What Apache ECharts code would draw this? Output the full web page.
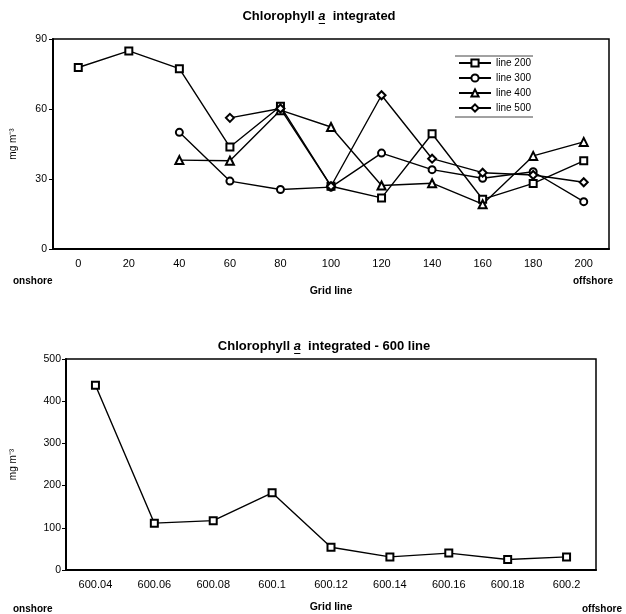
<!DOCTYPE html>
<html>
<head>
<meta charset="utf-8">
<script src="https://cdn.jsdelivr.net/npm/echarts@6/dist/echarts.min.js"></script>
<style>
html,body{margin:0;padding:0;background:#fff;}
#chart{width:626px;height:614px;}
</style>
</head>
<body>
<div id="chart"></div>
<script>
// ---- data ----
const gridLinesTop = ['0','20','40','60','80','100','120','140','160','180','200'];
const line200 = [77.8, 84.9, 77.3, 43.7, 61.2, 26.9, 21.9, 49.4, 21.3, 28.1, 37.8];
const line300 = [null, null, 50.0, 29.1, 25.5, 26.5, 41.1, 34.0, 30.3, 33.1, 20.3];
const line400 = [null, null, 38.1, 37.8, 59.5, 52.3, 27.2, 28.2, 19.2, 39.9, 45.9];
const line500 = [null, null, null, 56.2, 60.2, 26.9, 65.9, 38.7, 32.7, 31.7, 28.6];

const gridLines600 = ['600.04','600.06','600.08','600.1','600.12','600.14','600.16','600.18','600.2'];
const line600 = [438, 111, 117, 183, 54, 31, 40, 25, 31];

const topTicks = {min: 0, max: 90, interval: 30};
const bottomTicks = {min: 0, max: 500, interval: 100};

// ---- chart ----
const FONT = '"Liberation Sans", Arial, sans-serif';
const TITLE_SIZE = 13;
const chart = echarts.init(document.getElementById('chart'), null, {renderer: 'canvas'});

// measure title parts to place the underline under the italic "a"
const mctx = document.createElement('canvas').getContext('2d');
function w(text, font) { mctx.font = font; return mctx.measureText(text).width; }
const boldF = 'bold ' + TITLE_SIZE + 'px ' + FONT;
const italF = 'italic ' + TITLE_SIZE + 'px ' + FONT;
function underlineFor(centerX, y, pre, post) {
  const total = w(pre, boldF) + w('a', italF) + w(post, boldF);
  const x0 = centerX - total / 2 + w(pre, boldF);
  const x1 = x0 + w('a', italF);
  return {type: 'line', shape: {x1: x0 + 0.5, y1: y, x2: x1 - 0.5, y2: y}, style: {stroke: '#000', lineWidth: 1}};
}

function lineSeries(name, data, symbol, size, axisIdx) {
  return {
    name: name, type: 'line', data: data,
    xAxisIndex: axisIdx, yAxisIndex: axisIdx,
    symbol: symbol, symbolSize: size,
    showAllSymbol: true,
    lineStyle: {color: '#000', width: 1.4},
    itemStyle: {color: '#000', borderColor: '#000', borderWidth: 1.2},
    emphasis: {disabled: true},
    connectNulls: false
  };
}

const xLabelStyle = {color: '#000', fontSize: 11, fontFamily: FONT};
const yLabelStyle = {color: '#000', fontSize: 10.5, fontFamily: FONT};
const nameStyle = {color: '#000', fontSize: 10.5, fontWeight: 'bold', fontFamily: FONT};
const richTitle = {
  t: {fontSize: TITLE_SIZE, fontWeight: 'bold', fontFamily: FONT, color: '#000'},
  a: {fontSize: TITLE_SIZE, fontStyle: 'italic', fontFamily: FONT, color: '#000'}
};

const option = {
  animation: false,
  backgroundColor: '#fff',
  textStyle: {fontFamily: FONT, color: '#000'},
  title: [
    {
      text: '{t|Chlorophyll }{a|a}{t|  integrated}',
      left: 319, top: 10, textAlign: 'center', padding: 0,
      textStyle: {rich: richTitle}
    },
    {
      text: '{t|Chlorophyll }{a|a}{t|  integrated - 600 line}',
      left: 324, top: 340, textAlign: 'center', padding: 0,
      textStyle: {rich: richTitle}
    }
  ],
  legend: {
    orient: 'vertical', left: 458, top: 57, padding: 0,
    itemWidth: 32, itemHeight: 9, itemGap: 3,
    data: ['line 200','line 300','line 400','line 500'],
    textStyle: {color: '#000', fontSize: 10, lineHeight: 12, fontFamily: FONT},
    selectedMode: false
  },
  grid: [
    {left: 51, top: 39, width: 558, height: 210, show: true, borderColor: '#000', borderWidth: 1.5, containLabel: false},
    {left: 64, top: 359, width: 532, height: 217, show: true, borderColor: '#000', borderWidth: 1.5, containLabel: false}
  ],
  xAxis: [
    {
      type: 'category', gridIndex: 0, data: gridLinesTop, boundaryGap: true,
      axisLine: {lineStyle: {color: '#000', width: 2}},
      axisTick: {show: false},
      axisLabel: Object.assign({margin: 9, interval: 0}, xLabelStyle),
      name: 'Grid line', nameLocation: 'middle', nameGap: 37, nameTextStyle: nameStyle
    },
    {
      type: 'category', gridIndex: 1, data: gridLines600, boundaryGap: true,
      axisLine: {lineStyle: {color: '#000', width: 2}},
      axisTick: {show: false},
      axisLabel: Object.assign({margin: 9, interval: 0}, xLabelStyle),
      name: 'Grid line', nameLocation: 'middle', nameGap: 32, nameTextStyle: nameStyle
    }
  ],
  yAxis: [
    {
      type: 'value', gridIndex: 0, min: topTicks.min, max: topTicks.max, interval: topTicks.interval,
      axisLine: {show: true, lineStyle: {color: '#000', width: 2}},
      axisTick: {show: true, length: 4, lineStyle: {color: '#000'}},
      splitLine: {show: false},
      axisLabel: Object.assign({margin: 6}, yLabelStyle),
      name: 'mg m⁻³', nameLocation: 'middle', nameRotate: 90, nameGap: 35, nameTextStyle: {color: '#000', fontSize: 10, fontFamily: FONT}
    },
    {
      type: 'value', gridIndex: 1, min: bottomTicks.min, max: bottomTicks.max, interval: bottomTicks.interval,
      axisLine: {show: true, lineStyle: {color: '#000', width: 2}},
      axisTick: {show: true, length: 4, lineStyle: {color: '#000'}},
      splitLine: {show: false},
      axisLabel: Object.assign({margin: 5}, yLabelStyle),
      name: 'mg m⁻³', nameLocation: 'middle', nameRotate: 90, nameGap: 48, nameTextStyle: {color: '#000', fontSize: 10, fontFamily: FONT}
    }
  ],
  graphic: [
    {type: 'text', left: 13, top: 276, style: {text: 'onshore', fill: '#000', font: 'bold 10px ' + FONT}},
    {type: 'text', left: 573, top: 276, style: {text: 'offshore', fill: '#000', font: 'bold 10px ' + FONT}},
    {type: 'text', left: 13, top: 604, style: {text: 'onshore', fill: '#000', font: 'bold 10px ' + FONT}},
    {type: 'text', left: 582, top: 604, style: {text: 'offshore', fill: '#000', font: 'bold 10px ' + FONT}},
    // legend box top/bottom rules
    {type: 'line', shape: {x1: 455, y1: 56, x2: 533, y2: 56}, style: {stroke: '#444', lineWidth: 1}},
    {type: 'line', shape: {x1: 455, y1: 117, x2: 533, y2: 117}, style: {stroke: '#444', lineWidth: 1}},
    // underline of italic "a" in titles
    underlineFor(319, 23.5, 'Chlorophyll ', '  integrated'),
    underlineFor(324, 353.5, 'Chlorophyll ', '  integrated - 600 line')
  ],
  series: [
    lineSeries('line 200', line200, 'emptyRect', 7, 0),
    lineSeries('line 300', line300, 'emptyCircle', 7, 0),
    lineSeries('line 400', line400, 'emptyTriangle', 8, 0),
    lineSeries('line 500', line500, 'emptyDiamond', 8, 0),
    lineSeries('line 600', line600, 'emptyRect', 7, 1)
  ]
};
chart.setOption(option);
</script>
</body>
</html>
